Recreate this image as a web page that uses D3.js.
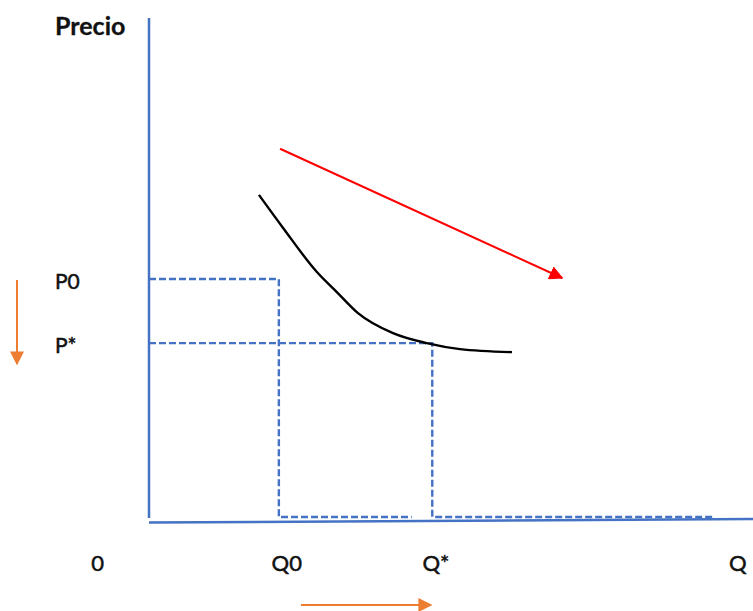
<!DOCTYPE html>
<html>
<head>
<meta charset="utf-8">
<script src="https://cdn.jsdelivr.net/npm/d3@7"></script>
<style>
  body { margin: 0; background: #fff; }
  text { font-family: Lato, "Open Sans", sans-serif; fill: #111; stroke: #111; stroke-width: 0.5px; }
</style>
</head>
<body>
<script>
// quantities and prices, in chart units (0..100 on both axes)
const qLabels = ['0', 'Q0', 'Q*', 'Q'];
const qValues = [-8.5, 22.8, 47.5, 97.5];
const pLabels = ['P0', 'P*'];
const pValues = [47.9, 35.1];
const q0 = 21.5, qStar = 46.9;

// demand curve
const curveQ = [18.2, 22.2, 27.8, 31.1, 34.6, 40.4, 46.0, 51.5, 60.1];
const curveP = [64.7, 58.1, 49.3, 45.3, 41.1, 37.1, 35.1, 33.9, 33.3];

// red shift arrow
const shiftQ = [21.7, 68.4];
const shiftP = [73.9, 48.1];

const width = 753, height = 611;
const x = d3.scaleLinear().domain([0, 100]).range([149, 753]);
const y = d3.scaleLinear().domain([0, 100]).range([519, 18]);

const blue = '#4472C4';
const orange = '#ED7D31';

const svg = d3.select('body').append('svg')
  .attr('width', width)
  .attr('height', height);

const defs = svg.append('defs');
function marker(id, color, size) {
  defs.append('marker')
    .attr('id', id)
    .attr('viewBox', '0 0 10 10')
    .attr('refX', 9).attr('refY', 5)
    .attr('markerWidth', size).attr('markerHeight', size)
    .attr('markerUnits', 'userSpaceOnUse')
    .attr('orient', 'auto')
    .append('path')
    .attr('d', 'M0,0 L10,5 L0,10 Z')
    .attr('fill', color);
}
marker('headRed', '#FF0000', 14);
marker('headOrange', orange, 14);

const line = d3.line().x(d => x(d[0])).y(d => y(d[1]));

// dashed guides
const dash = svg.append('g')
  .attr('fill', 'none')
  .attr('stroke', blue)
  .attr('stroke-width', 2.4)
  .attr('stroke-dasharray', '7,3');
dash.append('path').attr('d', line([[0, pValues[0]], [q0, pValues[0]], [q0, 0.4], [43.5, 0.4]]));
dash.append('path').attr('d', line([[0, pValues[1]], [qStar, pValues[1]], [qStar, 0.4], [93.5, 0.4]]));

// axes
svg.append('path')
  .attr('d', line([[0, 100], [0, 0.2]]))
  .attr('stroke', blue).attr('stroke-width', 2.5).attr('fill', 'none');
svg.append('path')
  .attr('d', line([[0, -0.7], [100, 0]]))
  .attr('stroke', blue).attr('stroke-width', 2.5).attr('fill', 'none');

// demand curve
svg.append('path')
  .attr('d', d3.line().curve(d3.curveMonotoneX)
    .x((d, i) => x(curveQ[i])).y((d, i) => y(curveP[i]))(curveQ))
  .attr('fill', 'none')
  .attr('stroke', '#000')
  .attr('stroke-width', 2.4);

// red arrow
svg.append('path')
  .attr('d', line(shiftQ.map((q, i) => [q, shiftP[i]])))
  .attr('stroke', '#FF0000').attr('stroke-width', 2)
  .attr('marker-end', 'url(#headRed)');

// orange arrows
svg.append('line')
  .attr('x1', 17).attr('y1', 280).attr('x2', 17).attr('y2', 364)
  .attr('stroke', orange).attr('stroke-width', 2)
  .attr('marker-end', 'url(#headOrange)');
svg.append('line')
  .attr('x1', 301).attr('y1', 605).attr('x2', 431).attr('y2', 605)
  .attr('stroke', orange).attr('stroke-width', 2)
  .attr('marker-end', 'url(#headOrange)');

// labels
svg.append('text')
  .attr('x', 55).attr('y', 35)
  .attr('font-size', 25).attr('font-weight', 'bold')
  .style('stroke-width', 0.3)
  .text('Precio');

svg.selectAll('.qlab').data(qLabels).join('text')
  .attr('class', 'qlab')
  .attr('x', (d, i) => x(qValues[i]))
  .attr('y', 571)
  .attr('text-anchor', 'middle')
  .attr('font-size', 22)
  .text(d => d);

svg.selectAll('.plab').data(pLabels).join('text')
  .attr('class', 'plab')
  .attr('x', 55)
  .attr('y', (d, i) => y(pValues[i]) + 10)
  .attr('font-size', 21)
  .text(d => d);
</script>
</body>
</html>
